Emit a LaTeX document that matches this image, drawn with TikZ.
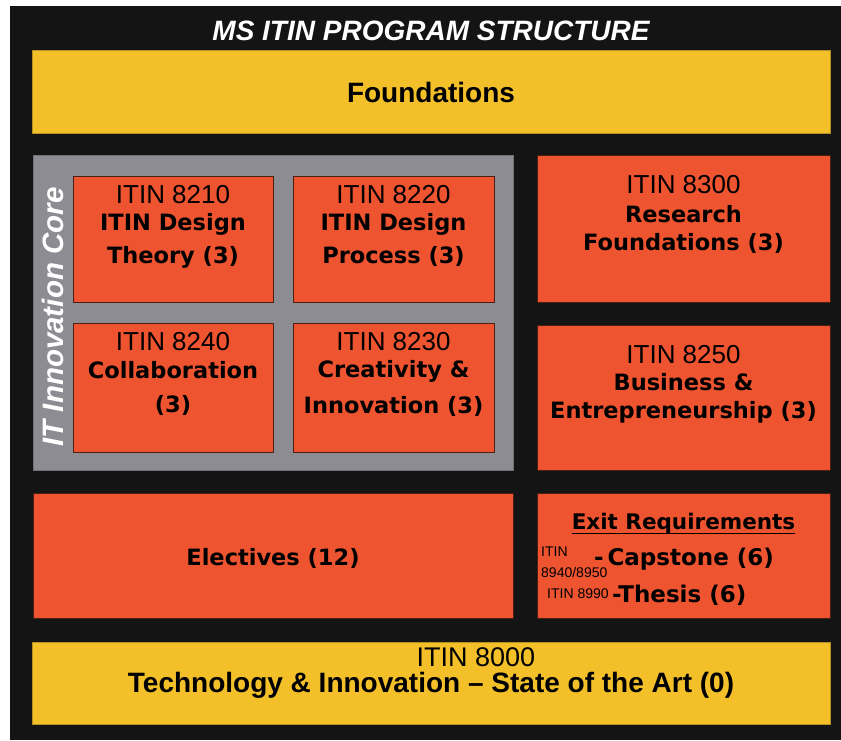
\documentclass[tikz,border=0pt]{standalone}
\usepackage{fontspec}
\setmainfont{Liberation Sans}
\newfontfamily\wideb{DejaVu Sans}
\definecolor{bgblack}{HTML}{141414}
\definecolor{gold}{HTML}{F3C02A}
\definecolor{tomato}{HTML}{EF5431}
\definecolor{panel}{HTML}{8C8C92}
\definecolor{edge}{HTML}{4A1E12}
\tikzset{
  blk/.style={rectangle, inner sep=0pt, anchor=north west, line width=1.2pt},
  obox/.style={blk, fill=tomato, draw=edge},
  ybox/.style={blk, fill=gold, draw=gold!75!black},
  gbox/.style={blk, fill=panel, draw=panel!80!black},
  num/.style={inner sep=0pt, anchor=base, font=\fontsize{26}{26}\selectfont},
  ttl/.style={inner sep=0pt, anchor=base, font=\wideb\bfseries\fontsize{22.5}{22.5}\selectfont},
  small/.style={inner sep=0pt, anchor=base west, font=\fontsize{14}{14}\selectfont},
}
\begin{document}
\begin{tikzpicture}[x=1pt,y=-1pt]
\useasboundingbox (0,0) rectangle (841,740);
\fill[white] (0,0) rectangle (841,740);
\fill[bgblack] (10,6) rectangle (841,740);

% title
\node[inner sep=0pt, anchor=base, text=white, font=\bfseries\itshape\fontsize{28}{28}\selectfont] (title) at (431,40) {MS ITIN PROGRAM STRUCTURE};

% foundations
\node[ybox, minimum width=798pt, minimum height=83pt] (fnd) at (32,50) {};
\node[inner sep=0pt, anchor=base, font=\bfseries\fontsize{28}{28}\selectfont] (fndt) at (431,102) {Foundations};

% core panel
\node[gbox, minimum width=480pt, minimum height=315pt] (core) at (33,155) {};
\node[inner sep=0pt, anchor=base, rotate=90, text=white, font=\bfseries\itshape\fontsize{29.5}{29.5}\selectfont] (coret) at (63,317) {IT Innovation Core};

\node[obox, minimum width=200pt, minimum height=126pt] (b8210) at (73,176) {};
\node[obox, minimum width=201pt, minimum height=126pt] (b8220) at (293,176) {};
\node[obox, minimum width=200pt, minimum height=129pt] (b8240) at (73,323) {};
\node[obox, minimum width=201pt, minimum height=129pt] (b8230) at (293,323) {};

\node[num] (t8210a) at (173,203) {ITIN 8210};
\node[ttl] (t8210b) at (173,230) {ITIN Design};
\node[ttl] (t8210c) at (173,263) {Theory (3)};

\node[num] (t8220a) at (393.5,203) {ITIN 8220};
\node[ttl] (t8220b) at (393.5,230) {ITIN Design};
\node[ttl] (t8220c) at (393.5,263) {Process (3)};

\node[num] (t8240a) at (173,350) {ITIN 8240};
\node[ttl] (t8240b) at (173,378) {Collaboration};
\node[ttl] (t8240c) at (173,412) {(3)};

\node[num] (t8230a) at (393.5,350) {ITIN 8230};
\node[ttl] (t8230b) at (393.5,377) {Creativity \&};
\node[ttl] (t8230c) at (393.5,413) {Innovation (3)};

% right column
\node[obox, minimum width=293pt, minimum height=147pt] (b8300) at (537,155) {};
\node[num] (t8300a) at (683.5,193) {ITIN 8300};
\node[ttl] (t8300b) at (683.5,222) {Research};
\node[ttl] (t8300c) at (683.5,250) {Foundations (3)};

\node[obox, minimum width=293pt, minimum height=145pt] (b8250) at (537,325) {};
\node[num] (t8250a) at (683.5,363) {ITIN 8250};
\node[ttl] (t8250b) at (683.5,390) {Business \&};
\node[ttl] (t8250c) at (683.5,418) {Entrepreneurship (3)};

% electives
\node[obox, minimum width=480pt, minimum height=125pt] (elec) at (33,493) {};
\node[ttl] (elect) at (273,565) {Electives (12)};

% exit requirements
\node[obox, minimum width=293pt, minimum height=125pt] (exit) at (537,493) {};
\node[ttl, font=\wideb\bfseries\fontsize{21.5}{21.5}\selectfont] (exith) at (683.5,529) {Exit Requirements};
\draw[line width=1.6pt] ([yshift=-4.5pt]exith.base west) -- ([yshift=-4.5pt]exith.base east);
\node[small] (ex1a) at (541,556) {ITIN};
\node[small] (ex1b) at (541,577) {8940/8950};
\node[ttl, anchor=base west, font=\wideb\bfseries\fontsize{23}{23}\selectfont] (ex1c) at (594,565) {-\,Capstone (6)};
\node[small] (ex2a) at (547,598) {ITIN 8990};
\node[ttl, anchor=base west, font=\wideb\bfseries\fontsize{23}{23}\selectfont] (ex2b) at (612,602) {-Thesis (6)};

% bottom bar
\node[ybox, minimum width=798pt, minimum height=82pt] (state) at (32,642) {};
\node[inner sep=0pt, anchor=base, font=\fontsize{27}{27}\selectfont] (statea) at (476,666) {ITIN 8000};
\node[inner sep=0pt, anchor=base, font=\bfseries\fontsize{28}{28}\selectfont] (stateb) at (431,692) {Technology \& Innovation – State of the Art (0)};
\end{tikzpicture}
\end{document}
